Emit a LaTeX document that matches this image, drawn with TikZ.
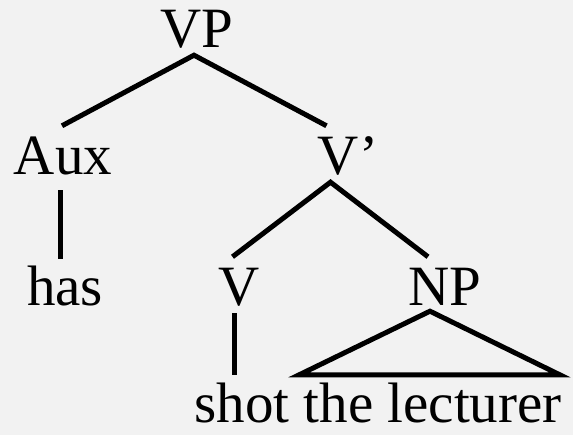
\documentclass[tikz,border=0pt]{standalone}
\usepackage{fontspec}
\setmainfont{Liberation Serif}
\usepackage{tikz}
\usetikzlibrary{positioning,calc}
\definecolor{paper}{HTML}{F2F2F2}
\definecolor{ink}{HTML}{000000}
\tikzset{
  cat/.style={anchor=base,inner sep=5pt,text height=44pt,text depth=2pt,
              text=ink,font=\fontsize{57}{60}\selectfont},
  leaf/.style={cat,text height=42pt,text depth=0pt,inner ysep=2pt,inner xsep=1pt},
  branch/.style={draw=ink,line width=5pt,line join=miter}
}
\begin{document}
\begin{tikzpicture}[x=1pt,y=1pt]
    \path[use as bounding box,fill=paper] (0,0) rectangle (573,435);
    % categories
    \node[cat] (VP) at (197,387) {VP};
    \node[cat] (Aux) at (63,260) {Aux};
    \node[cat] (Vbar) at (338.5,260) {V\rlap{’}};
    \node[cat] (V) at (239.5,129) {V};
    \node[cat] (NP) at (445,129) {NP};
    % words
    \node[leaf] (has) at (65,129) {has};
    \node[leaf] (words) at (378,12) {shot the lecturer};
    % branches
    \draw[branch] ([xshift=-1pt]Aux.north) -- ([xshift=-3pt]VP.south)
      -- ([xshift=-12pt]Vbar.north);
    \draw[branch] ([xshift=-3pt,yshift=-8pt]Aux.south)
      -- ([xshift=-3pt,yshift=3pt]Aux.south |- has.north);
    \draw[branch] ([xshift=-7pt]V.north) -- ([xshift=-8pt]Vbar.south)
      -- ([xshift=-17pt]NP.north);
    \draw[branch] ([xshift=-5pt]V.south) -- ([xshift=-5pt,yshift=4pt]V.south |- words.north);
    \draw[branch] ([xshift=-15pt,yshift=2pt]NP.south) -- ([xshift=106pt,yshift=4pt]words.north west)
      -- ([xshift=-3pt,yshift=4pt]words.north east) -- cycle;
  \end{tikzpicture}
\end{document}
